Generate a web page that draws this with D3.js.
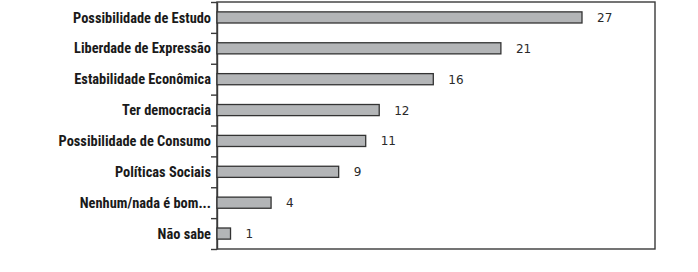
<!DOCTYPE html>
<html>
<head>
<meta charset="utf-8">
<script src="https://cdn.jsdelivr.net/npm/d3@7"></script>
<style>
  body { margin: 0; background: #fff; }
</style>
</head>
<body>
<script>
// dados
var categorias = ["Possibilidade de Estudo", "Liberdade de Expressão", "Estabilidade Econômica",
  "Ter democracia", "Possibilidade de Consumo", "Políticas Sociais", "Nenhum/nada é bom...", "Não sabe"];
var valores = [27, 21, 16, 12, 11, 9, 4, 1];

var width = 698, height = 272;
var mEsq = 217, mDir = 655, mTopo = 2, mBase = 249;

var svg = d3.select("body").append("svg").attr("width", width).attr("height", height);

var x = d3.scaleLinear().domain([0, 32.4]).range([mEsq, mDir]);
var y = d3.scaleBand().domain(categorias).range([mTopo, mBase]).paddingInner(0.64).paddingOuter(0.32);
// escala das divisões (ticks entre as barras)
var yDiv = d3.scaleLinear().domain([0, categorias.length]).range([mTopo, mBase]);

// moldura
svg.append("rect")
  .attr("x", mEsq).attr("y", mTopo)
  .attr("width", mDir - mEsq).attr("height", mBase - mTopo)
  .attr("fill", "none").attr("stroke", "#3a3a3a").attr("stroke-width", 1.4);

// eixo com traços
var eixo = svg.append("g").attr("transform", "translate(" + mEsq + ",0)")
  .call(d3.axisLeft(yDiv).tickValues(d3.range(categorias.length + 1)).tickSize(6).tickSizeOuter(0).tickFormat(""));
eixo.selectAll("path, line").attr("stroke", "#3a3a3a").attr("stroke-width", 1.4);

// barras
svg.selectAll(".barra").data(valores).enter().append("rect")
  .attr("class", "barra")
  .attr("x", x(0))
  .attr("y", function(d, i) { return y(categorias[i]); })
  .attr("width", function(d) { return x(d) - x(0); })
  .attr("height", y.bandwidth())
  .attr("fill", "#b3b5b7")
  .attr("stroke", "#333")
  .attr("stroke-width", 1.3);

// valores
svg.selectAll(".valor").data(valores).enter().append("text")
  .attr("class", "valor")
  .attr("x", function(d) { return x(d) + 15; })
  .attr("y", function(d, i) { return y(categorias[i]) + y.bandwidth() / 2; })
  .attr("dy", "0.38em")
  .attr("font-family", "DejaVu Sans")
  .attr("font-size", 12)
  .attr("fill", "#2a2a2a")
  .text(function(d) { return d; });

// rótulos das categorias
svg.selectAll(".rotulo").data(categorias).enter().append("text")
  .attr("class", "rotulo")
  .attr("x", mEsq - 6)
  .attr("y", function(d) { return y(d) + y.bandwidth() / 2; })
  .attr("dy", "0.36em")
  .attr("text-anchor", "end")
  .attr("font-family", "Liberation Sans Narrow, Roboto Condensed, sans-serif")
  .attr("font-size", 14.4)
  .attr("font-weight", "bold")
  .attr("fill", "#1a1a1a")
  .text(function(d) { return d; });
</script>
</body>
</html>
